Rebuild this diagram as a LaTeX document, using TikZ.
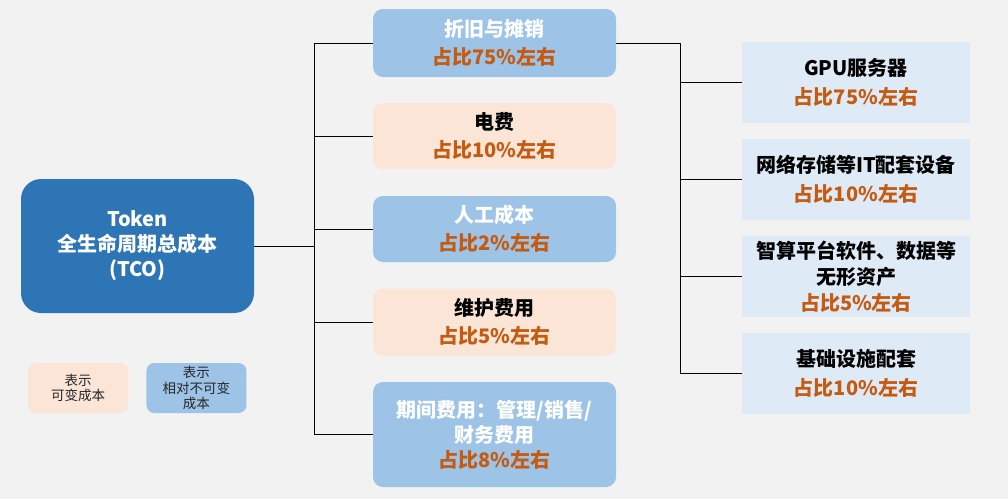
\documentclass[tikz,border=0pt]{standalone}
\usepackage{fontspec}
\setmainfont{Noto Sans CJK SC}
\usepackage{tikz}
\usetikzlibrary{positioning}

\definecolor{tcoblue}{HTML}{2E75B6}
\definecolor{midblue}{HTML}{9DC3E6}
\definecolor{midpeach}{HTML}{FBE5D6}
\definecolor{subblue}{HTML}{DEEBF7}
\definecolor{shareorange}{HTML}{C55A11}
\definecolor{pagebg}{HTML}{F2F2F2}

\newcommand{\share}[1]{\textcolor{shareorange}{#1}}

\begin{document}
\begin{tikzpicture}[
    x=1pt, y=-1pt,
    every node/.style={inner sep=0pt, align=center},
    rootbox/.style={fill=tcoblue, rounded corners=20pt, text=white,
        font=\fontsize{20}{25}\selectfont\bfseries},
    fixedbox/.style={fill=midblue, rounded corners=10pt, minimum width=243pt, text=white,
        font=\fontsize{20}{28}\selectfont\bfseries},
    varbox/.style={fill=midpeach, rounded corners=10pt, minimum width=243pt, text=black,
        font=\fontsize{20}{28}\selectfont\bfseries},
    itembox/.style={fill=subblue, minimum width=228pt, minimum height=81pt, text=black,
        font=\fontsize{20}{29}\selectfont\bfseries},
    legbox/.style={rounded corners=8pt, minimum width=100pt, minimum height=50pt,
        text=black!85, font=\fontsize{13.5}{15.5}\selectfont},
    link/.style={draw=black, line width=1pt}
]
\fill[pagebg] (0,0) rectangle (1008,499);
\useasboundingbox (0,0) rectangle (1008,499);

% root
\node[rootbox, minimum width=233pt, minimum height=134pt] (tco) at (137.5,246)
    {Token\\全生命周期总成本\\(TCO)};

% middle column
\node[fixedbox, minimum height=68pt] (dep) at (494.5,43) {折旧与摊销\\\share{占比75\%左右}};
\node[varbox, minimum height=66pt] (elec) at (494.5,136) {电费\\\share{占比10\%左右}};
\node[fixedbox, minimum height=66pt] (labor) at (494.5,229) {人工成本\\\share{占比2\%左右}};
\node[varbox, minimum height=67pt] (maint) at (494.5,322) {维护费用\\\share{占比5\%左右}};
\node[fixedbox, minimum height=105pt, font=\fontsize{20}{25}\selectfont\bfseries] (period) at (494.5,434.5)
    {期间费用：管理/销售/\\财务费用\\\share{占比8\%左右}};

% right column
\node[itembox] (gpu) at (856,82.5) {GPU服务器\\\share{占比75\%左右}};
\node[itembox] (net) at (856,179) {网络存储等IT配套设备\\\share{占比10\%左右}};
\node[itembox, font=\fontsize{20}{26}\selectfont\bfseries] (soft) at (856,276.5)
    {智算平台软件、数据等\\无形资产\\\share{占比5\%左右}};
\node[itembox] (infra) at (856,373) {基础设施配套\\\share{占比10\%左右}};

% legend
\node[legbox, fill=midpeach] (legvar) at (78,388) {表示\\可变成本};
\node[legbox, fill=midblue, right=18pt of legvar] (legfix) {表示\\相对不可变\\成本};

% connectors
\coordinate (jl) at (314,246);
\coordinate (jr) at (680,43);
\draw[link] (tco.east) -- (jl);
\foreach \n in {dep,elec,labor,maint,period}
    \draw[link] (\n.west) -| (jl);
\draw[link] (dep.east) -- (jr);
\foreach \n in {gpu,net,soft,infra}
    \draw[link] (\n.west) -| (jr);
\end{tikzpicture}
\end{document}
